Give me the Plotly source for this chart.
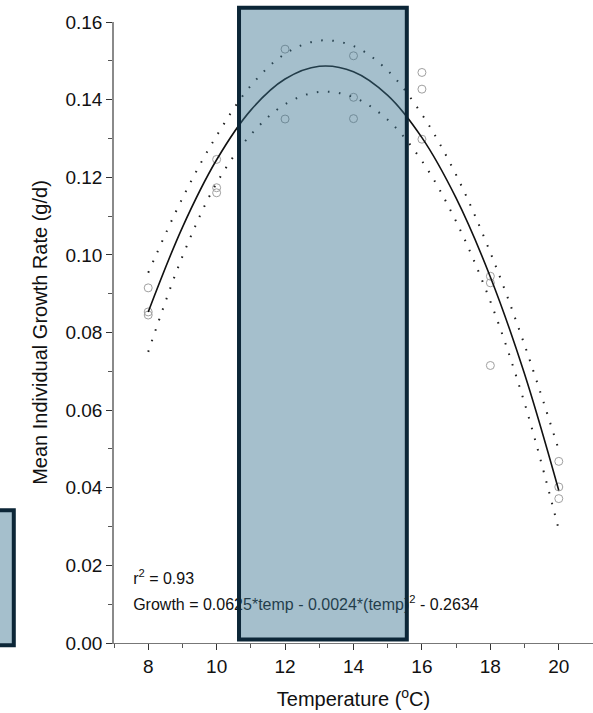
import plotly.graph_objects as go

# Observed data
temp_obs = [8, 8, 8, 10, 10, 10, 12, 12, 14, 14, 14, 16, 16, 16, 18, 18, 18, 20, 20, 20]
growth_obs = [0.0915, 0.0853, 0.0845, 0.1246, 0.1173, 0.1160, 0.1530, 0.1350,
              0.1513, 0.1406, 0.1351, 0.1470, 0.1427, 0.1298, 0.0945, 0.0928, 0.0715,
              0.0468, 0.0402, 0.0372]

# Fitted curve and confidence band
temp_fit = [8, 9, 10, 11, 12, 13, 14, 15, 16, 17, 18, 19, 20]
growth_fit = [0.0853, 0.1071, 0.1245, 0.1373, 0.1453, 0.1486, 0.1472, 0.1411,
              0.1302, 0.1146, 0.0943, 0.0693, 0.0393]
growth_upper = [0.0954, 0.1146, 0.1307, 0.1436, 0.1518, 0.1552, 0.1538, 0.1475,
                0.1362, 0.1206, 0.1006, 0.0768, 0.0497]
growth_lower = [0.0750, 0.0996, 0.1185, 0.1310, 0.1388, 0.1420, 0.1406, 0.1348,
                0.1242, 0.1086, 0.0880, 0.0618, 0.0292]

x_ticks = [8, 10, 12, 14, 16, 18, 20]
y_ticks = [0.00, 0.02, 0.04, 0.06, 0.08, 0.10, 0.12, 0.14, 0.16]
y_tick_text = ["0.00", "0.02", "0.04", "0.06", "0.08", "0.10", "0.12", "0.14", "0.16"]

r2_text = "r<sup>2</sup> = 0.93"
eq_text = "Growth = 0.0625*temp - 0.0024*(temp)<sup>2</sup> - 0.2634"

FONT = "Liberation Sans, Arial, sans-serif"

fig = go.Figure()

fig.add_trace(go.Scatter(
    x=temp_obs, y=growth_obs, mode="markers",
    marker=dict(symbol="circle-open", size=8, color="#a0a0a0", line=dict(width=1, color="#a0a0a0")),
    showlegend=False, cliponaxis=False))

for band in (growth_upper, growth_lower):
    fig.add_trace(go.Scatter(
        x=temp_fit, y=band, mode="lines", line_shape="spline",
        line=dict(color="#222222", width=2, dash="1.6px,9.5px"),
        showlegend=False))

fig.add_trace(go.Scatter(
    x=temp_fit, y=growth_fit, mode="lines", line_shape="spline",
    line=dict(color="#111111", width=1.6), showlegend=False))

# text on an overlaid paper-like axis so the translucent box covers it
fig.add_trace(go.Scatter(
    x=[0.04, 0.04], y=[0.1015, 0.0596], mode="text",
    text=[r2_text, eq_text], textposition="middle right",
    textfont=dict(family=FONT, size=16, color="#111111"),
    xaxis="x2", yaxis="y2", showlegend=False, cliponaxis=False))

fig.update_layout(
    width=593, height=713,
    margin=dict(l=114, r=0, t=22, b=70),
    paper_bgcolor="white", plot_bgcolor="white",
    font=dict(family=FONT, color="#111111"),
    xaxis=dict(
        range=[7, 21], tickmode="array", tickvals=x_ticks,
        ticks="outside", ticklen=6, tickcolor="#333333", tickwidth=1,
        minor=dict(dtick=1, ticks="outside", ticklen=4, tickcolor="#555555"),
        showline=True, linecolor="#777777", linewidth=1.2,
        showgrid=False, zeroline=False,
        tickfont=dict(family=FONT, size=19, color="#111111"),
        title=dict(text="Temperature (<sup>o</sup>C)", standoff=16,
                   font=dict(family=FONT, size=20, color="#111111")),
    ),
    yaxis=dict(
        range=[0, 0.16], tickmode="array", tickvals=y_ticks, ticktext=y_tick_text,
        ticks="outside", ticklen=6, tickcolor="#333333", tickwidth=1,
        minor=dict(dtick=0.01, ticks="outside", ticklen=4, tickcolor="#555555"),
        showline=True, linecolor="#8a8a8a", linewidth=1.5,
        showgrid=False, zeroline=False,
        tickfont=dict(family=FONT, size=19, color="#111111"),
        title=dict(text="Mean Individual Growth Rate (g/d)", standoff=12,
                   font=dict(family=FONT, size=20, color="#111111")),
    ),
    xaxis2=dict(range=[0, 1], overlaying="x", visible=False, fixedrange=True),
    yaxis2=dict(range=[0, 1], overlaying="y", visible=False, fixedrange=True),
)

# translucent highlight box over the plot
fig.add_shape(type="rect", xref="paper", yref="paper",
              x0=0.261, x1=0.6113, y0=0.0056, y1=1.0229,
              fillcolor="rgba(56,113,142,0.45)",
              line=dict(color="#0c2637", width=4), layer="above")
# partially visible box at the left edge
fig.add_shape(type="rect", xref="paper", yref="paper",
              x0=-0.28, x1=-0.2092, y0=-0.0037, y1=0.2139,
              fillcolor="rgba(56,113,142,0.45)",
              line=dict(color="#0c2637", width=4), layer="above")

fig.write_html("out.html")
